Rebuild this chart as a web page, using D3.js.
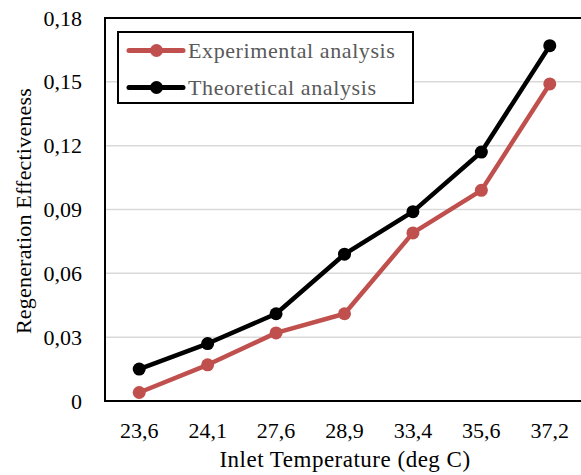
<!DOCTYPE html>
<html>
<head>
<meta charset="utf-8">
<script src="https://cdn.jsdelivr.net/npm/d3@7"></script>
<style>
  body { margin: 0; background: #fff; }
  svg { display: block; }
</style>
</head>
<body>
<svg id="chart" width="581" height="475"></svg>
<script>
const categories = ["23,6", "24,1", "27,6", "28,9", "33,4", "35,6", "37,2"];
const experimental = [0.004, 0.017, 0.032, 0.041, 0.079, 0.099, 0.149];
const theoretical = [0.015, 0.027, 0.041, 0.069, 0.089, 0.117, 0.167];
const yTicks = [0, 0.03, 0.06, 0.09, 0.12, 0.15, 0.18];

const series = [
  { name: "Experimental analysis", values: experimental, color: "#c0504d" },
  { name: "Theoretical analysis", values: theoretical, color: "#000000" }
];

const FONT = "Liberation Serif";
const svg = d3.select("#chart");
const plotLeft = 105, plotRight = 584, plotTop = 18, plotBottom = 401;

const x = d3.scaleBand().domain(categories).range([plotLeft, plotRight]);
const y = d3.scaleLinear().domain([0, 0.18]).range([plotBottom, plotTop]);
const fmt = d => d === 0 ? "0" : d3.format(".2f")(d).replace(".", ",");

// gridlines
svg.append("g")
  .selectAll("line")
  .data(yTicks.filter(d => d > 0 && d < 0.18))
  .join("line")
  .attr("x1", plotLeft).attr("x2", plotRight)
  .attr("y1", d => y(d)).attr("y2", d => y(d))
  .attr("stroke", "#d9d9d9").attr("stroke-width", 1.5);

// frame
svg.append("rect")
  .attr("x", plotLeft).attr("y", y(0.18))
  .attr("width", plotRight - plotLeft).attr("height", y(0) - y(0.18))
  .attr("fill", "none").attr("stroke", "#000").attr("stroke-width", 2);

// y axis
const yAxis = svg.append("g")
  .attr("transform", `translate(${plotLeft},0)`)
  .call(d3.axisLeft(y).tickValues(yTicks).tickFormat(fmt).tickSize(0).tickPadding(23));
yAxis.select(".domain").remove();
yAxis.attr("font-family", FONT).attr("font-size", 22);
yAxis.selectAll("text").attr("fill", "#000");

// x axis
const xAxis = svg.append("g")
  .attr("transform", `translate(0,${plotBottom})`)
  .call(d3.axisBottom(x).tickSize(0).tickPadding(21));
xAxis.select(".domain").remove();
xAxis.attr("font-family", FONT).attr("font-size", 22);
xAxis.selectAll("text").attr("fill", "#000");

// axis titles
svg.append("text")
  .attr("x", 345).attr("y", 467)
  .attr("text-anchor", "middle")
  .attr("font-family", FONT).attr("font-size", 23)
  .attr("letter-spacing", 0.5)
  .text("Inlet Temperature (deg C)");

svg.append("text")
  .attr("transform", "translate(31,211) rotate(-90)")
  .attr("text-anchor", "middle")
  .attr("font-family", FONT).attr("font-size", 22)
  .attr("letter-spacing", 0.2)
  .text("Regeneration Effectiveness");

// lines and markers
const line = d3.line()
  .x((d, i) => x(categories[i]) + x.bandwidth() / 2)
  .y(d => y(d));

series.forEach(s => {
  svg.append("path")
    .datum(s.values)
    .attr("d", line)
    .attr("fill", "none")
    .attr("stroke", s.color)
    .attr("stroke-width", 4.5)
    .attr("stroke-linejoin", "round");
  svg.append("g")
    .selectAll("circle")
    .data(s.values)
    .join("circle")
    .attr("cx", (d, i) => x(categories[i]) + x.bandwidth() / 2)
    .attr("cy", d => y(d))
    .attr("r", 6.5)
    .attr("fill", s.color);
});

// legend
const legend = svg.append("g");
legend.append("rect")
  .attr("x", 118).attr("y", 32).attr("width", 295).attr("height", 71)
  .attr("fill", "#fff").attr("stroke", "#000").attr("stroke-width", 2);

series.forEach((s, i) => {
  const ly = 50.5 + i * 37;
  legend.append("line")
    .attr("x1", 129).attr("x2", 183).attr("y1", ly).attr("y2", ly)
    .attr("stroke", s.color).attr("stroke-width", 5).attr("stroke-linecap", "round");
  legend.append("circle")
    .attr("cx", 156.5).attr("cy", ly).attr("r", 6.5).attr("fill", s.color);
  legend.append("text")
    .attr("x", 188).attr("y", ly + 7.5)
    .attr("font-family", FONT).attr("font-size", 22)
    .attr("letter-spacing", 0.6)
    .attr("fill", "#595959")
    .text(s.name);
});
</script>
</body>
</html>
